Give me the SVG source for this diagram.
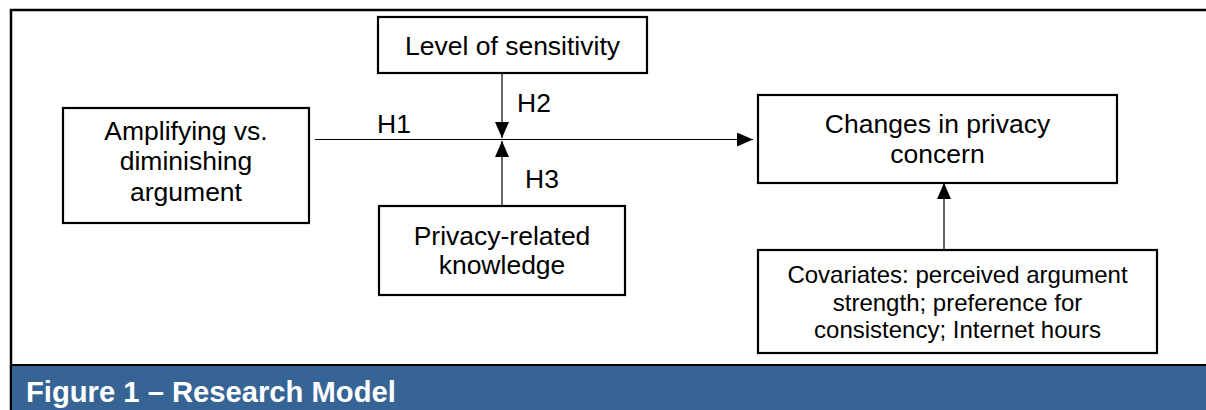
<svg xmlns="http://www.w3.org/2000/svg" width="1206" height="410" viewBox="0 0 1206 410">
<style>
.box{fill:#fff;stroke:#000;stroke-width:2.2}
.t{font-family:"Liberation Sans",Arial,sans-serif;font-size:26.5px;fill:#000;text-anchor:middle}
.s{font-size:24px}
.h{font-family:"Liberation Sans",Arial,sans-serif;font-size:26.5px;fill:#000}
.c{stroke:#000;stroke-width:1.2;fill:none}
</style>
<defs>
<marker id="ah" viewBox="0 0 16 14" refX="16" refY="7" markerWidth="16" markerHeight="14" markerUnits="userSpaceOnUse" orient="auto">
<path d="M0,0 L16,7 L0,14 Z" fill="#000"/>
</marker>
</defs>
<rect x="0" y="0" width="1206" height="410" fill="#fff"/>
<g id="frame">
<path d="M11,410 V10 H1206" fill="none" stroke="#000" stroke-width="2.5"/>
<rect x="12" y="365" width="1194" height="45" fill="#366494"/>
<line x1="11" y1="365" x2="1206" y2="365" stroke="#000" stroke-width="2"/>
<text x="26" y="402" font-family="'Liberation Sans',Arial,sans-serif" font-size="29.2" font-weight="bold" fill="#fff">Figure 1 – Research Model</text>
</g>
<g id="connectors">
<line class="c" x1="315" y1="139.5" x2="753" y2="139.5" marker-end="url(#ah)"/>
<line class="c" x1="502" y1="73" x2="502" y2="138" marker-end="url(#ah)"/>
<line class="c" x1="502" y1="205" x2="502" y2="141" marker-end="url(#ah)"/>
<line class="c" x1="944" y1="250" x2="944" y2="183" marker-end="url(#ah)"/>
<text class="h" x="377" y="133">H1</text>
<text class="h" x="517" y="112">H2</text>
<text class="h" x="525" y="188">H3</text>
</g>
<g id="amplifying">
<rect class="box" x="63" y="108" width="246" height="115"/>
<text class="t" x="186" y="140">Amplifying vs.</text>
<text class="t" x="186" y="170">diminishing</text>
<text class="t" x="186" y="201">argument</text>
</g>
<g id="sensitivity">
<rect class="box" x="378" y="17" width="269" height="56"/>
<text class="t" x="512.5" y="55">Level of sensitivity</text>
</g>
<g id="knowledge">
<rect class="box" x="379" y="206" width="246" height="89"/>
<text class="t" x="502" y="245">Privacy-related</text>
<text class="t" x="502" y="274">knowledge</text>
</g>
<g id="changes">
<rect class="box" x="758" y="95" width="359" height="88"/>
<text class="t" x="937.5" y="133">Changes in privacy</text>
<text class="t" x="937.5" y="163">concern</text>
</g>
<g id="covariates">
<rect class="box" x="758" y="250" width="399" height="103"/>
<text class="t s" x="957.5" y="283">Covariates: perceived argument</text>
<text class="t s" x="957.5" y="311">strength; preference for</text>
<text class="t s" x="957.5" y="338">consistency; Internet hours</text>
</g>
</svg>
